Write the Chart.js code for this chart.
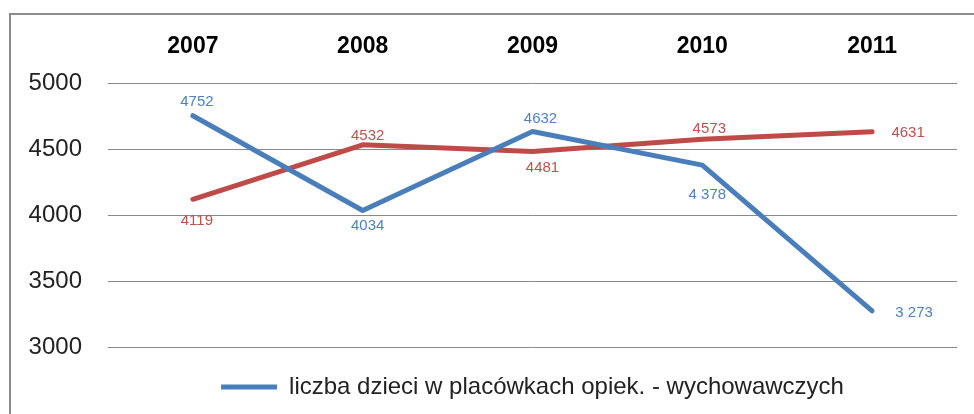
<!DOCTYPE html>
<html>
<head>
<meta charset="utf-8">
<script src="https://cdn.jsdelivr.net/npm/chart.js@4"></script>
<style>
    html, body { margin: 0; padding: 0; background: #fff; }
    #wrap { width: 974px; height: 414px; position: relative; }
</style>
</head>
<body>
<div id="wrap"><canvas id="lineChart" width="974" height="414"></canvas></div>
<script>
// Chart data
const years = ['2007', '2008', '2009', '2010', '2011'];
const childrenCounts = [4752, 4034, 4632, 4378, 3273];
const secondCounts = [4119, 4532, 4481, 4573, 4631];
const childrenLabels = ['4752', '4034', '4632', '4 378', '3 273'];
const secondLabels = ['4119', '4532', '4481', '4573', '4631'];
const yTicks = [3000, 3500, 4000, 4500, 5000];

// Label offsets from the point (centre of text), in px
const blueOffsets = [[4, -14], [5, 15], [8, -13], [5, 30], [42, 2]];
const redOffsets = [[4, 22], [5, -9], [10, 16], [7, -11], [36, 1]];

const BLUE = '#4A7EBB';
const RED = '#BE4B48';

// Draw value labels next to each point
const valueLabels = {
    id: 'valueLabels',
    afterDatasetsDraw(chart) {
        const ctx = chart.ctx;
        ctx.save();
        ctx.font = '15px "Liberation Sans", Arial, sans-serif';
        ctx.textAlign = 'center';
        ctx.textBaseline = 'middle';
        chart.data.datasets.forEach((ds, i) => {
            const meta = chart.getDatasetMeta(i);
            meta.data.forEach((pt, j) => {
                const off = ds.labelOffsets[j];
                ctx.fillStyle = ds.labelColor;
                ctx.fillText(ds.valueText[j], pt.x + off[0], pt.y + off[1]);
            });
        });
        ctx.restore();
    }
};

// Outer frame (top and left edges visible)
const frame = {
    id: 'frame',
    beforeDraw(chart) {
        const ctx = chart.ctx;
        ctx.save();
        ctx.strokeStyle = '#8c8c8c';
        ctx.lineWidth = 2;
        ctx.beginPath();
        ctx.moveTo(10, 414);
        ctx.lineTo(10, 14);
        ctx.lineTo(974, 14);
        ctx.stroke();
        ctx.restore();
    }
};

// Push the legend a little lower, below the plot
const legendShift = {
    id: 'legendShift',
    afterLayout(chart) {
        chart.legend.top += 18;
        chart.legend.bottom += 18;
    }
};

new Chart(document.getElementById('lineChart'), {
    type: 'line',
    data: {
        labels: years,
        datasets: [
            {
                label: 'liczba dzieci w placówkach opiek. - wychowawczych',
                data: childrenCounts,
                valueText: childrenLabels,
                labelOffsets: blueOffsets,
                labelColor: '#4F81BD',
                borderColor: BLUE,
                backgroundColor: BLUE,
                borderWidth: 5,
                borderCapStyle: 'round',
                borderJoinStyle: 'round',
                pointRadius: 0,
                tension: 0
            },
            {
                label: 'liczba dzieci w rodzinach zastępczych',
                data: secondCounts,
                valueText: secondLabels,
                labelOffsets: redOffsets,
                labelColor: '#C0504D',
                borderColor: RED,
                backgroundColor: RED,
                borderWidth: 5,
                borderCapStyle: 'round',
                borderJoinStyle: 'round',
                pointRadius: 0,
                tension: 0
            }
        ]
    },
    options: {
        responsive: false,
        animation: false,
        layout: { padding: { left: 20, right: 17, top: 0, bottom: 23 } },
        plugins: {
            tooltip: { enabled: false },
            legend: {
                position: 'bottom',
                fullSize: false,
                labels: {
                    filter: item => item.datasetIndex === 0,
                    usePointStyle: true,
                    pointStyle: 'line',
                    pointStyleWidth: 56,
                    color: '#222',
                    padding: 10,
                    font: { family: '"Liberation Sans", Arial, sans-serif', size: 24 }
                }
            }
        },
        scales: {
            x: {
                position: 'top',
                offset: true,
                grid: { display: false, drawTicks: false },
                border: { display: false },
                ticks: {
                    color: '#000',
                    padding: 23,
                    font: { family: '"Liberation Sans", Arial, sans-serif', size: 23, weight: 'bold' }
                },
                afterFit: scale => { scale.height = 83; }
            },
            y: {
                min: 3000,
                max: 5000,
                afterBuildTicks: scale => { scale.ticks = yTicks.map(v => ({ value: v })); },
                grid: { color: '#888', lineWidth: 1, drawTicks: false },
                border: { display: false },
                ticks: {
                    color: '#222',
                    padding: 26,
                    callback: value => String(value),
                    font: { family: '"Liberation Sans", Arial, sans-serif', size: 24 }
                },
                afterFit: scale => { scale.width = 88; }
            }
        }
    },
    plugins: [frame, legendShift, valueLabels]
});
</script>
</body>
</html>
